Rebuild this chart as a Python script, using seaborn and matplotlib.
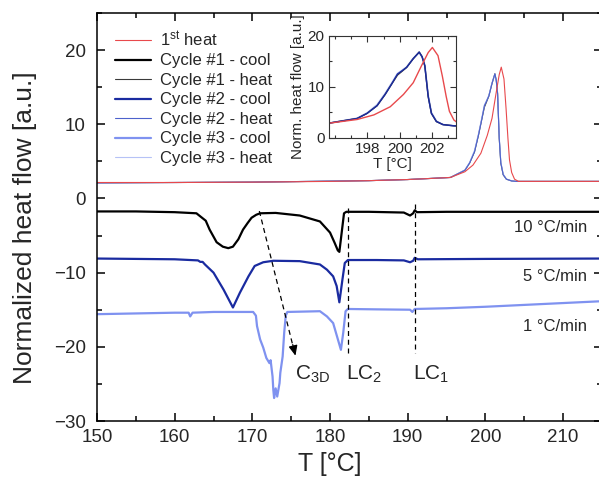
import numpy as np
import pandas as pd
import matplotlib
matplotlib.use("Agg")
import matplotlib.pyplot as plt
from matplotlib.ticker import MultipleLocator, FixedLocator
import seaborn as sns

# ---------------- data ----------------
# First heating run
T_first_heat = [150, 160, 170, 180, 185, 190, 193, 195.5, 197.36, 198.4, 199.42, 200.24,
                200.85, 201.36, 201.78, 202.04, 202.39, 202.66, 202.9, 203.1, 203.38,
                203.75, 204.25, 210, 215]
q_first_heat = [2.15, 2.15, 2.2, 2.3, 2.4, 2.55, 2.7, 2.83, 3.6, 4.5, 6.1, 8.5,
                10.8, 14.1, 16.7, 17.7, 16.1, 12.1, 8.1, 5.2, 3.5,
                2.6, 2.3, 2.3, 2.3]

# Heating runs of the three cycles
T_cycle_heat = [150, 170, 185, 190, 193, 195.5, 197.36, 197.98, 198.6, 199.1, 199.5,
                199.87, 200.14, 200.44, 200.85, 201.22, 201.4, 201.57, 201.78, 201.98,
                202.29, 202.7, 203.38, 204.0, 215]
q_cycle1_heat = [2.1, 2.2, 2.4, 2.55, 2.7, 2.83, 3.8, 4.8, 6.3, 8.5, 10.5,
                 12.3, 13.0, 13.8, 15.5, 16.8, 15.9, 14.1, 8.1, 4.8,
                 3.2, 2.6, 2.36, 2.3, 2.3]
q_cycle2_heat = [2.1, 2.2, 2.4, 2.55, 2.7, 2.83, 3.8, 4.8, 6.3, 8.5, 10.5,
                 12.5, 13.1, 13.8, 15.5, 16.8, 15.9, 14.1, 8.1, 4.8,
                 3.2, 2.6, 2.36, 2.3, 2.3]
q_cycle3_heat = [2.1, 2.2, 2.4, 2.55, 2.7, 2.83, 3.85, 4.9, 6.5, 8.7, 10.7,
                 12.6, 13.2, 13.9, 15.6, 16.7, 15.8, 14.3, 8.4, 5.0,
                 3.3, 2.6, 2.36, 2.3, 2.3]

# Cooling runs (10, 5 and 1 °C/min)
T_cycle1_cool = [150, 155, 160, 162.8, 164.0, 164.5, 165.4, 166.2, 166.9, 167.5, 168.2,
                 168.8, 169.4, 169.9, 170.5, 171.0, 173, 176.1, 178.7, 180.0, 180.6,
                 181.0, 181.2, 181.5, 181.8, 182.1, 185, 189.5, 190.3, 190.7, 190.9,
                 191.2, 195, 200, 205, 210, 215]
q_cycle1_cool = [-1.75, -1.75, -1.85, -2.0, -3.0, -4.2, -5.9, -6.5, -6.7, -6.5, -5.5,
                 -4.2, -3.3, -2.6, -2.2, -2.0, -1.95, -2.3, -3.1, -4.6, -6.0,
                 -7.0, -7.2, -4.6, -2.0, -1.8, -1.8, -1.9, -2.3, -2.0, -1.6,
                 -1.85, -1.8, -1.8, -1.8, -1.8, -1.8]

T_cycle2_cool = [150, 155, 160, 163.0, 163.3, 163.6, 163.9, 165.0, 166.3, 167.5, 168.4,
                 169.5, 170.3, 171.4, 172.7, 176.1, 178.7, 179.6, 180.4, 180.85, 181.2,
                 181.6, 181.9, 182.3, 186, 189.5, 190.3, 190.7, 190.9, 191.3, 200, 215]
q_cycle2_cool = [-8.1, -8.15, -8.2, -8.35, -8.55, -8.55, -8.9, -10.0, -12.3, -14.7, -12.7,
                 -10.5, -9.1, -8.6, -8.4, -8.45, -8.9, -9.6, -10.5, -11.8, -14.0,
                 -10.9, -8.7, -8.3, -8.3, -8.35, -8.6, -8.4, -8.0, -8.2, -8.15, -8.1]

T_cycle3_cool = [150, 155, 160, 161.8, 162.0, 162.3, 165, 170.1, 170.46, 170.6, 171.0,
                 171.4, 171.8, 172.2, 172.35, 172.6, 172.7, 172.8, 173.0, 173.2, 173.5,
                 173.6, 173.9, 174.1, 174.3, 174.5, 178.7, 179.6, 180.4, 180.9, 181.4,
                 181.7, 182.0, 182.3, 186, 190.3, 190.6, 190.9, 195, 200, 205, 210, 215]
q_cycle3_cool = [-15.6, -15.5, -15.4, -15.4, -15.9, -15.4, -15.3, -15.3, -15.8, -17.2, -19.0,
                 -20.1, -21.5, -22.2, -21.8, -24.0, -25.8, -26.9, -25.6, -26.7, -24.9,
                 -23.5, -21.3, -18.1, -15.8, -15.3, -15.2, -15.9, -16.8, -18.6, -20.4,
                 -18.1, -15.2, -14.9, -14.95, -15.0, -15.3, -14.9, -14.8, -14.6, -14.35, -14.1, -13.85]

# Transition markers
T_LC2, T_LC1 = 182.25, 190.9
rate_labels = ["10 °C/min", "5 °C/min", "1 °C/min"]
rate_label_y = [-3.9, -10.5, -17.2]
inset_xticks = [198, 200, 202]

# ---------------- style ----------------
sns.set_theme(style="ticks")
plt.rcParams["font.family"] = ["Liberation Sans", "DejaVu Sans"]
plt.rcParams["mathtext.fontset"] = "custom"
plt.rcParams["mathtext.rm"] = "Liberation Sans"
plt.rcParams["mathtext.it"] = "Liberation Sans:italic"
plt.rcParams["axes.linewidth"] = 1.1

C_RED = "#e8494c"
C_BLACK = "#000000"
C_GREY = "#3a3a3a"
C_NAVY = "#1a2ba0"
C_BLUE = "#4d62cc"
C_LBLUE = "#7f92f0"
C_PALE = "#b6c2f6"

fig = plt.figure(figsize=(5.99, 4.96), dpi=100)
ax = fig.add_axes([0.1619, 0.1512, 0.843, 0.8226])


def draw(a, T, q, color, lw, label=None):
    df = pd.DataFrame({"T": T, "q": q})
    sns.lineplot(data=df, x="T", y="q", ax=a, color=color, lw=lw, sort=False,
                 estimator=None, label=label, legend=False)


draw(ax, T_cycle1_cool, q_cycle1_cool, C_BLACK, 1.6, "Cycle #1 - cool")
draw(ax, T_cycle2_cool, q_cycle2_cool, C_NAVY, 1.6, "Cycle #2 - cool")
draw(ax, T_cycle3_cool, q_cycle3_cool, C_LBLUE, 1.6, "Cycle #3 - cool")
draw(ax, T_cycle_heat, q_cycle1_heat, C_GREY, 0.8, "Cycle #1 - heat")
draw(ax, T_cycle_heat, q_cycle3_heat, C_PALE, 0.8, "Cycle #3 - heat")
draw(ax, T_cycle_heat, q_cycle2_heat, C_BLUE, 0.8, "Cycle #2 - heat")
draw(ax, T_first_heat, q_first_heat, C_RED, 0.8, "1$^{\\mathregular{st}}$ heat")

ax.set_xlim(150, 215)
ax.set_ylim(-30, 25)
ax.xaxis.set_major_locator(MultipleLocator(10))
ax.xaxis.set_minor_locator(MultipleLocator(5))
ax.yaxis.set_major_locator(MultipleLocator(10))
ax.yaxis.set_minor_locator(MultipleLocator(5))
ax.tick_params(which="both", direction="in", top=True, right=True, color="black", width=1.1)
ax.tick_params(which="major", length=6)
ax.tick_params(which="minor", length=3.5)
ax.tick_params(axis="x", labelsize=13.5, pad=6)
ax.tick_params(axis="y", labelsize=13.5, pad=8)
for s in ax.spines.values():
    s.set_color("black")

ax.set_xlabel("T [°C]", fontsize=18)
ax.set_ylabel("Normalized heat flow [a.u.]", fontsize=19)
ax.xaxis.set_label_coords(0.461, -0.076)
ax.yaxis.set_label_coords(-0.119, 0.475)

# guide lines for the transitions
ax.plot([T_LC2, T_LC2], [-1.3, -21.3], ls=(0, (4, 3)), color="black", lw=0.9)
ax.plot([T_LC1, T_LC1], [-0.8, -20.8], ls=(0, (4, 3)), color="black", lw=0.9)
ax.plot([170.9, 175.3], [-1.7, -20.2], ls=(0, (4, 3)), color="black", lw=0.9)
ax.annotate("", xy=(175.55, -21.2), xytext=(175.2, -19.7),
            arrowprops=dict(arrowstyle="-|>,head_length=0.5,head_width=0.22",
                            color="black", lw=0.9, shrinkA=0, shrinkB=0))

ax.text(175.5, -24.4, "C$_{\\mathregular{3D}}$", fontsize=15, va="baseline", ha="left")
ax.text(182.0, -24.4, "LC$_{\\mathregular{2}}$", fontsize=15, va="baseline", ha="left")
ax.text(190.7, -24.4, "LC$_{\\mathregular{1}}$", fontsize=15, va="baseline", ha="left")

for txt, yv in zip(rate_labels, rate_label_y):
    ax.text(213.1, yv, txt, fontsize=12, ha="right", va="center")

# legend
h = {l.get_label(): l for l in ax.get_lines()}
order = ["1$^{\\mathregular{st}}$ heat", "Cycle #1 - cool", "Cycle #1 - heat", "Cycle #2 - cool",
         "Cycle #2 - heat", "Cycle #3 - cool", "Cycle #3 - heat"]
ax.legend([h[k] for k in order], order, loc="upper left", bbox_to_anchor=(0.192, 0.941),
          bbox_transform=fig.transFigure, frameon=False, fontsize=12, labelspacing=0.27,
          handlelength=2.15, handletextpad=0.55, borderpad=0, borderaxespad=0)

# inset: magnified melting peaks
axi = fig.add_axes([0.549, 0.722, 0.212, 0.206])
draw(axi, T_cycle_heat, q_cycle3_heat, C_PALE, 1.2)
draw(axi, T_cycle_heat, q_cycle1_heat, C_GREY, 1.0)
draw(axi, T_cycle_heat, q_cycle2_heat, C_NAVY, 1.0)
draw(axi, T_first_heat, q_first_heat, C_RED, 1.0)
axi.set_xlim(195.6, 203.5)
axi.set_ylim(0, 20)
axi.xaxis.set_major_locator(FixedLocator(inset_xticks))
axi.xaxis.set_minor_locator(MultipleLocator(1))
axi.yaxis.set_major_locator(MultipleLocator(10))
axi.yaxis.set_minor_locator(MultipleLocator(5))
axi.tick_params(which="both", direction="in", top=True, right=True, color="#333333",
                width=0.8, labelsize=11, pad=3)
axi.tick_params(which="major", length=4)
axi.tick_params(which="minor", length=2.5)
for s in axi.spines.values():
    s.set_color("#333333")
    s.set_linewidth(0.8)
axi.set_xlabel("T [°C]", fontsize=11, labelpad=1)
axi.set_ylabel("Norm. heat flow [a.u.]", fontsize=11, labelpad=2)

fig.savefig("out.png", dpi=100)
